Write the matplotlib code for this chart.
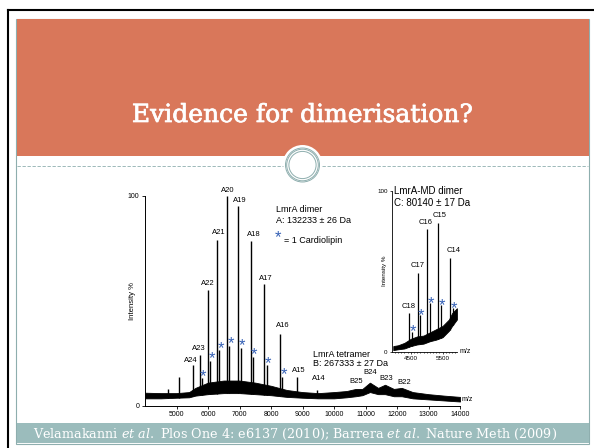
import numpy as np
import matplotlib
matplotlib.use("Agg")
import matplotlib.pyplot as plt
import matplotlib.patheffects as pe
from matplotlib.patches import Rectangle, Circle

plt.rcParams["font.family"] = ["Liberation Sans", "DejaVu Sans"]
plt.rcParams["mathtext.fontset"] = "dejavuserif"

# %% data
# LmrA dimer, A series (main spectrum)
a_labels = ["A24", "A23", "A22", "A21", "A20", "A19", "A18", "A17", "A16", "A15", "A14"]
a_mz = [5510, 5750, 6010, 6300, 6610, 6960, 7350, 7780, 8270, 8820, 9450]
a_int = [19.2, 24.2, 55.2, 79.0, 100.0, 95.2, 78.5, 57.9, 34.2, 13.8, 7.5]

# cardiolipin adducts of A23..A16
cl_mz = [5810, 6075, 6365, 6680, 7035, 7430, 7860, 8360]
cl_int = [13.0, 21.5, 26.5, 28.6, 27.7, 23.4, 19.4, 13.8]

# unlabelled peaks below 5500
x_mz = [4730, 5080]
x_int = [8.0, 13.8]

# LmrA tetramer, B series (broad humps)
b_labels = ["B25", "B24", "B23", "B22"]
b_mz = [10690, 11140, 11620, 12150]
b_int = [8.0, 11.0, 10.0, 8.5]

# noisy baseline band (lower / upper edge)
env_mz = [4000, 4500, 5000, 5400, 5600, 6000, 6500, 7000, 7500, 8000, 8500, 9000,
          9500, 10000, 10400, 10690, 10900, 11140, 11400, 11620, 11900, 12150,
          12500, 13000, 13500, 14000]
env_low = [3.5, 3.5, 3.8, 4.0, 4.8, 5.5, 6.0, 6.0, 5.5, 5.0, 4.2, 3.8,
           3.5, 3.5, 4.0, 4.5, 5.0, 6.5, 5.5, 5.5, 4.5, 4.5,
           3.5, 3.0, 2.5, 2.0]
env_high = [6.2, 6.0, 6.0, 6.5, 8.5, 11.0, 12.0, 12.0, 11.0, 9.5, 7.5, 6.5,
            6.0, 6.5, 7.0, 8.0, 8.0, 11.0, 8.5, 10.0, 8.0, 8.5,
            6.5, 5.5, 4.8, 4.2]

# LmrA-MD dimer, C series (inset)
c_labels = ["C18", "C17", "C16", "C15", "C14"]
c_mz = [4453, 4715, 5010, 5344, 5725]
c_int = [24.2, 48.7, 76.0, 79.7, 58.4]
ccl_mz = [4530, 4800, 5100, 5440, 5825]
ccl_int = [12.4, 22.8, 30.0, 29.0, 27.0]
cenv_mz = [3950, 4100, 4300, 4500, 4700, 4900, 5100, 5300, 5500, 5700, 5800, 5950]
cenv_low = [1.0, 1.5, 2.0, 3.5, 4.5, 5.0, 6.5, 7.5, 9.0, 13.0, 16.0, 20.0]
cenv_high = [3.5, 4.0, 5.5, 8.0, 9.5, 10.0, 12.0, 14.0, 16.0, 20.0, 24.0, 27.0]

main_xticks = [5000, 6000, 7000, 8000, 9000, 10000, 11000, 12000, 13000, 14000]
inset_xticks = [4500, 5500]

title = "Evidence for dimerisation?"
caption = (r"Velamakanni $\mathit{et\ al.}$ Plos One 4: e6137 (2010); "
           r"Barrera $\mathit{et\ al.}$ Nature Meth (2009)")

# %% layout / style
W, H = 594, 448
ORANGE = "#d9775a"
TEAL = "#9bbcbc"
LINE = "#8eaeae"
STAR = "#3560b5"

fig = plt.figure(figsize=(W / 100, H / 100), dpi=100)


def frac(x0, y0, x1, y1):
    return [x0 / W, 1 - y1 / H, (x1 - x0) / W, (y1 - y0) / H]


bg = fig.add_axes([0, 0, 1, 1])
bg.set_xlim(0, W)
bg.set_ylim(H, 0)
bg.axis("off")

# slide frame
bg.plot([8, 8], [10, H], color="black", lw=1.5)
bg.plot([8, W], [10, 10], color="black", lw=1.5)
bg.add_patch(Rectangle((16, 19), 573, 425, fill=False, ec=LINE, lw=0.8))
bg.add_patch(Rectangle((16.5, 19.5), 572, 137, fc=ORANGE, ec="none"))
bg.add_patch(Circle((302.5, 165), 20, fc="white", ec="none"))
bg.plot([17, 283], [166, 166], color=LINE, lw=0.6, ls=(0, (4, 2)))
bg.plot([322, 588], [166, 166], color=LINE, lw=0.6, ls=(0, (4, 2)))
for r in (17, 15.8, 13.6):
    bg.add_patch(Circle((302.5, 165), r, fill=False, ec=LINE, lw=0.7))
bg.text(302.5, 122, title, color="white", fontsize=18, family="DejaVu Serif",
        ha="center", va="baseline",
        path_effects=[pe.withStroke(linewidth=0.5, foreground="white")])
bg.add_patch(Rectangle((16.5, 423), 572, 20.5, fc=TEAL, ec="none"))
bg.text(33, 434, caption, color="white", fontsize=9.2, family="DejaVu Serif",
        ha="left", va="center")

# %% main spectrum
ax = fig.add_axes(frac(145, 196, 460, 405.7))
ax.patch.set_alpha(0)
ax.set_xlim(4000, 14000)
ax.set_ylim(0, 100)
for s in ("top", "right"):
    ax.spines[s].set_visible(False)
for s in ("left", "bottom"):
    ax.spines[s].set_linewidth(0.7)

ax.fill_between(env_mz, env_low, env_high, color="black", lw=0.6)
base = np.interp(a_mz, env_mz, env_low)
ax.vlines(a_mz, base, a_int, color="black", lw=1.0)
ax.vlines(cl_mz, np.interp(cl_mz, env_mz, env_low), cl_int, color="black", lw=1.0)
ax.vlines(x_mz, np.interp(x_mz, env_mz, env_low), x_int, color="black", lw=1.0)

a_dx = [-1.4, -0.7, -0.5, 1.2, 0.3, 1.2, 2.7, 0.9, 2.2, 1.7, 1.2]
a_dy = [3.8, 4.8, 4.5, 5.5, 4.3, 4.3, 4.8, 4.1, 6.0, 4.3, 8.0]
for lab, mz, h, dx, dy in zip(a_labels, a_mz, a_int, a_dx, a_dy):
    ax.annotate(lab, (mz, h), xytext=(dx, dy), textcoords="offset points",
                ha="center", va="center", fontsize=5.5, annotation_clip=False)
for mz, h in zip(cl_mz, cl_int):
    ax.annotate("*", (mz, h), xytext=(1, -2), textcoords="offset points",
                ha="center", va="baseline", fontsize=12, color=STAR)

b_dx = [0, 0, 1.1, 1.8]
b_dy = [5.7, 7.0, 4.4, 4.0]
for lab, mz, h, dx, dy in zip(b_labels, b_mz, b_int, b_dx, b_dy):
    ax.annotate(lab, (mz, h), xytext=(dx, dy), textcoords="offset points",
                ha="center", va="center", fontsize=5.5)

ax.text(8150, 93.5, "LmrA dimer", fontsize=6.5, va="center")
ax.text(8150, 88.1, "A: 132233 \u00b1 26 Da", fontsize=6.5, va="center")
ax.text(8222, 78.1, "*", fontsize=12, color=STAR, ha="center", va="baseline")
ax.text(8420, 78.6, "= 1 Cardiolipin", fontsize=6.5, va="center")
ax.text(9325, 24.5, "LmrA tetramer", fontsize=6.5, va="center")
ax.text(9325, 19.9, "B: 267333 \u00b1 27 Da", fontsize=6.5, va="center")

ax.set_xticks(main_xticks)
ax.set_xticklabels([str(t) for t in main_xticks])
ax.set_yticks([0, 100])
ax.set_yticklabels(["0", "100"])
ax.tick_params(labelsize=5, length=2, width=0.6, pad=2)
ax.set_ylabel("Intensity %", fontsize=5.6)
ax.yaxis.set_label_coords(-0.03, 0.5)
ax.text(1.005, 0.015, "m/z", transform=ax.transAxes, fontsize=5, ha="left", va="bottom")

# %% inset
ins = fig.add_axes(frac(391.7, 190.7, 456.9, 351.7))
ins.patch.set_alpha(0)
ins.set_xlim(3900, 5950)
ins.set_ylim(0, 100)
for s in ("top", "right"):
    ins.spines[s].set_visible(False)
for s in ("left", "bottom"):
    ins.spines[s].set_linewidth(0.6)

ins.fill_between(cenv_mz, cenv_low, cenv_high, color="black", lw=0.6)
ins.vlines(c_mz, np.interp(c_mz, cenv_mz, cenv_low), c_int, color="black", lw=0.9)
ins.vlines(ccl_mz, np.interp(ccl_mz, cenv_mz, cenv_low), ccl_int, color="black", lw=0.9)

c_dx = [-0.7, 0, -0.7, 1.7, 2.6]
c_dy = [4.8, 5.3, 4.8, 6.0, 5.5]
for lab, mz, h, dx, dy in zip(c_labels, c_mz, c_int, c_dx, c_dy):
    ins.annotate(lab, (mz, h), xytext=(dx, dy), textcoords="offset points",
                 ha="center", va="center", fontsize=5.5)
for mz, h in zip(ccl_mz, ccl_int):
    ins.annotate("*", (mz, h), xytext=(0.8, -3.4), textcoords="offset points",
                 ha="center", va="baseline", fontsize=12, color=STAR)

ins.text(3960, 99.8, "LmrA-MD dimer", fontsize=7, va="center", clip_on=False)
ins.text(3960, 92.5, "C: 80140 \u00b1 17 Da", fontsize=7, va="center", clip_on=False)
ins.set_xticks(inset_xticks)
ins.set_xticklabels([str(t) for t in inset_xticks])
ins.set_xticks(np.arange(4000, 5950, 100), minor=True)
ins.set_yticks([0, 100])
ins.set_yticklabels(["0", "100"])
ins.tick_params(labelsize=4.5, length=1.5, width=0.5, pad=1.5)
ins.tick_params(which="minor", length=1, width=0.5)
ins.set_ylabel("Intensity %", fontsize=4.5)
ins.yaxis.set_label_coords(-0.077, 0.5)
ins.text(1.04, 0.0, "m/z", transform=ins.transAxes, fontsize=5, ha="left", va="center")

fig.savefig("out.png", dpi=100)
